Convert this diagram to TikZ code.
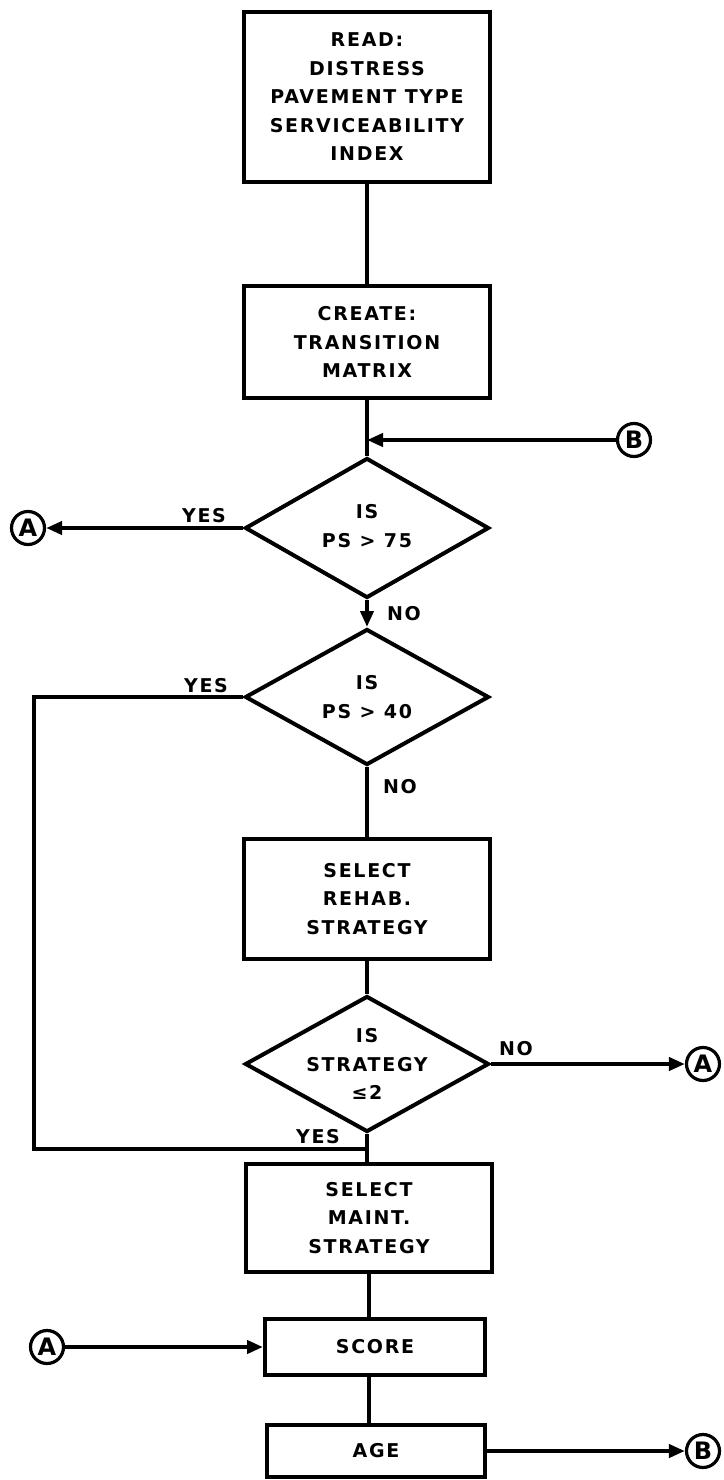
\documentclass[tikz,border=0pt]{standalone}
\usepackage{fontspec}
\setmainfont{DejaVu Sans}
\usetikzlibrary{shapes.geometric,arrows.meta}
\begin{document}
\begin{tikzpicture}[x=1pt,y=-1pt,
  line width=4pt,
  every node/.style={font=\fontsize{19}{28.5}\selectfont\bfseries\addfontfeatures{LetterSpace=9}},
  box/.style={draw, rectangle, minimum width=246pt, align=center, inner sep=0pt},
  dia/.style={draw, diamond, minimum width=244pt, minimum height=140pt, inner sep=0pt},
  dtext/.style={align=center, inner sep=0pt},
  conn/.style={draw, circle, line width=3.2pt, minimum size=33pt, inner sep=0pt, font=\fontsize{24}{24}\selectfont\bfseries},
  lab/.style={inner sep=0pt},
  arr/.style={-{Triangle[length=16pt,width=13pt]}},
]
\useasboundingbox (0,0) rectangle (723,1480);
% boxes
\node[box, minimum height=169pt] (read) at (367,97) {READ:\\DISTRESS\\PAVEMENT TYPE\\SERVICEABILITY\\INDEX};
\node[box, minimum height=112pt] (create) at (367,342) {CREATE:\\TRANSITION\\MATRIX};
\node[dia] (d1) at (367,528) {};
\node[dtext] (d1t) at (367,526) {IS\\PS > 75};
\node[dia, minimum height=136pt] (d2) at (367,697) {};
\node[dtext] (d2t) at (367,697) {IS\\PS > 40};
\node[box, minimum height=120pt] (rehab) at (367,899) {SELECT\\REHAB.\\STRATEGY};
\node[dia, minimum height=136pt] (d3) at (367,1064) {};
\node[dtext] (d3t) at (367,1064) {IS\\STRATEGY\\≤2};
\node[box, minimum height=108pt] (maint) at (369,1218) {SELECT\\MAINT.\\STRATEGY};
\node[box, minimum width=220pt, minimum height=56pt] (score) at (375,1347) {SCORE};
\node[box, minimum width=218pt, minimum height=52pt] (age) at (376,1451) {AGE};
% connector circles
\node[conn] (B1) at (634,440) {B};
\node[conn] (A1) at (28,528) {A};
\node[conn] (A2) at (703,1064) {A};
\node[conn] (A3) at (47,1347) {A};
\node[conn] (B2) at (703,1451) {B};
% labels
\node[lab] (y1) at (204,516) {YES};
\node[lab] (n1) at (404,614) {NO};
\node[lab] (y2) at (206,686) {YES};
\node[lab] (n2) at (400,787) {NO};
\node[lab] (n3) at (516,1049) {NO};
\node[lab] (y3) at (318,1137) {YES};
\coordinate (c2) at (34,1149);
\coordinate (j2) at (367,1149);
% connectors
\draw (read) -- (create);
\draw (create) -- (d1);
\draw[arr] (B1) -- (B1 -| create);
\draw[arr] (d1.west) -- (A1);
\draw[arr] (d1.south) -- (d2.north);
\draw (d2.west) -| (c2) -- (j2);
\draw (d2) -- (rehab);
\draw (rehab) -- (d3);
\draw[arr] (d3.east) -- (A2);
\draw (d3.south) -- (d3.south |- maint.north);
\draw (maint.south) -- (maint.south |- score.north);
\draw[arr] (A3) -- (score.west);
\draw (score.south -| maint.south) -- (maint.south |- age.north);
\draw[arr] (age.east) -- (B2);
\end{tikzpicture}
\end{document}
